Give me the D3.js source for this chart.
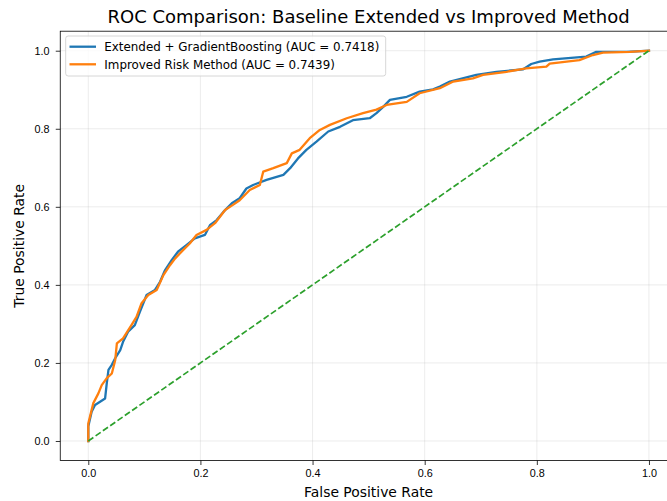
<!DOCTYPE html>
<html>
<head>
<meta charset="utf-8">
<script src="https://cdn.jsdelivr.net/npm/d3@7"></script>
<style>
body { margin: 0; background: #fff; }
svg { display: block; font-family: "DejaVu Sans", sans-serif; }
.grid line { stroke: #b0b0b0; stroke-opacity: 0.3; stroke-width: 0.8; }
.tick text { font-size: 10.8px; fill: #000; }
</style>
</head>
<body>
<svg id="roc" width="667" height="501"></svg>
<script>
const titleText = 'ROC Comparison: Baseline Extended vs Improved Method';
const xLabel = 'False Positive Rate';
const yLabel = 'True Positive Rate';
const tickValues = [0, 0.2, 0.4, 0.6, 0.8, 1.0];

const seriesNames = [
    'Extended + GradientBoosting (AUC = 0.7418)',
    'Improved Risk Method (AUC = 0.7439)'
];

const blueFpr = [0, 0, 0.006, 0.012, 0.030, 0.033, 0.036, 0.042, 0.048, 0.057, 0.062, 0.071, 0.083, 0.092, 0.104, 0.119, 0.128, 0.137, 0.149, 0.160, 0.175, 0.190, 0.208, 0.217, 0.229, 0.241, 0.256, 0.270, 0.282, 0.294, 0.318, 0.348, 0.360, 0.374, 0.389, 0.407, 0.428, 0.449, 0.472, 0.502, 0.514, 0.526, 0.538, 0.568, 0.591, 0.615, 0.627, 0.645, 0.692, 0.728, 0.775, 0.790, 0.805, 0.829, 0.888, 0.906, 0.960, 1.0];
const blueTpr = [0, 0.037, 0.075, 0.092, 0.109, 0.148, 0.182, 0.195, 0.212, 0.233, 0.254, 0.280, 0.297, 0.331, 0.374, 0.387, 0.408, 0.438, 0.464, 0.485, 0.502, 0.519, 0.528, 0.553, 0.566, 0.587, 0.609, 0.622, 0.647, 0.656, 0.669, 0.682, 0.699, 0.724, 0.746, 0.767, 0.793, 0.805, 0.822, 0.827, 0.840, 0.856, 0.874, 0.882, 0.895, 0.901, 0.908, 0.921, 0.938, 0.946, 0.952, 0.966, 0.972, 0.978, 0.985, 0.997, 0.997, 1.0];

const orangeFpr = [0, 0, 0.009, 0.018, 0.024, 0.033, 0.042, 0.048, 0.051, 0.062, 0.077, 0.086, 0.095, 0.107, 0.122, 0.134, 0.146, 0.155, 0.169, 0.181, 0.193, 0.211, 0.226, 0.244, 0.258, 0.270, 0.288, 0.306, 0.312, 0.330, 0.354, 0.363, 0.377, 0.395, 0.413, 0.431, 0.461, 0.490, 0.514, 0.532, 0.568, 0.591, 0.627, 0.651, 0.686, 0.704, 0.746, 0.781, 0.817, 0.823, 0.876, 0.900, 0.918, 0.966, 1.0];
const orangeTpr = [0, 0.045, 0.097, 0.122, 0.143, 0.161, 0.173, 0.207, 0.250, 0.263, 0.297, 0.318, 0.353, 0.374, 0.387, 0.425, 0.451, 0.468, 0.489, 0.506, 0.528, 0.541, 0.558, 0.592, 0.605, 0.617, 0.643, 0.656, 0.690, 0.699, 0.712, 0.737, 0.746, 0.776, 0.797, 0.810, 0.827, 0.840, 0.849, 0.861, 0.869, 0.891, 0.904, 0.921, 0.929, 0.938, 0.946, 0.955, 0.959, 0.967, 0.976, 0.989, 0.995, 0.997, 1.0];

const chanceFpr = [0, 1];
const chanceTpr = [0, 1];

const colors = ['#1f77b4', '#ff7f0e', '#2ca02c'];

function drawRoc(selector) {
    const svg = d3.select(selector);
    // axes box runs past the right edge of the window, as in the original
    const left = 60.25, right = 677, top = 31.2, bottom = 460.5;
    const x = d3.scaleLinear().domain([-0.05, 1.05]).range([left, right]);
    const y = d3.scaleLinear().domain([-0.05, 1.05]).range([bottom, top]);

    const grid = svg.append('g').attr('class', 'grid');
    grid.selectAll('line.gx').data(tickValues)
	.join('line').attr('class', 'gx')
	.attr('x1', d => x(d)).attr('x2', d => x(d))
	.attr('y1', top).attr('y2', bottom);
    grid.selectAll('line.gy').data(tickValues)
	.join('line').attr('class', 'gy')
	.attr('y1', d => y(d)).attr('y2', d => y(d))
	.attr('x1', left).attr('x2', right);

    const line = d3.line().x(d => x(d[0])).y(d => y(d[1]));
    const curves = [
	d3.zip(blueFpr, blueTpr),
	d3.zip(orangeFpr, orangeTpr)
    ];
    svg.append('g').selectAll('path.roc').data(curves)
	.join('path')
	.attr('class', 'roc')
	.attr('d', line)
	.attr('fill', 'none')
	.attr('stroke', (_, i) => colors[i])
	.attr('stroke-width', 2.3)
	.attr('stroke-linejoin', 'round')
	.attr('stroke-linecap', 'square');

    svg.append('path')
	.attr('d', line(d3.zip(chanceFpr, chanceTpr)))
	.attr('fill', 'none')
	.attr('stroke', colors[2])
	.attr('stroke-width', 1.7)
	.attr('stroke-dasharray', '6.2,2.7');

    const xAxis = d3.axisBottom(x).tickValues(tickValues).tickFormat(d3.format('.1f'))
	  .tickSize(4.5).tickPadding(4.5);
    const yAxis = d3.axisLeft(y).tickValues(tickValues).tickFormat(d3.format('.1f'))
	  .tickSize(4.5).tickPadding(6.2);
    const gx = svg.append('g').attr('transform', `translate(0,${bottom})`).call(xAxis);
    const gy = svg.append('g').attr('transform', `translate(${left},0)`).call(yAxis);
    [gx, gy].forEach(g => {
	g.select('.domain').remove();
	g.selectAll('.tick line').attr('stroke', '#000').attr('stroke-width', 0.8);
    });
    gx.selectAll('.tick text').attr('dy', '0.71em');

    // spines
    svg.append('rect')
	.attr('x', left).attr('y', top)
	.attr('width', right - left).attr('height', bottom - top)
	.attr('fill', 'none').attr('stroke', '#000').attr('stroke-width', 0.8);

    svg.append('text')
	.attr('x', (left + right) / 2).attr('y', 23)
	.attr('text-anchor', 'middle')
	.style('font-size', '18px')
	.text(titleText);
    svg.append('text')
	.attr('x', (left + right) / 2).attr('y', 497)
	.attr('text-anchor', 'middle')
	.style('font-size', '13.9px')
	.text(xLabel);
    svg.append('text')
	.attr('transform', `translate(23.5,${(top + bottom) / 2}) rotate(-90)`)
	.attr('text-anchor', 'middle')
	.style('font-size', '13.9px')
	.text(yLabel);

    // legend
    const legend = svg.append('g');
    legend.append('rect')
	.attr('x', 65.7).attr('y', 36)
	.attr('width', 320).attr('height', 40)
	.attr('rx', 2.5)
	.attr('fill', '#fff').attr('fill-opacity', 0.8)
	.attr('stroke', '#cccccc').attr('stroke-width', 0.8);
    const items = legend.selectAll('g.item').data(seriesNames)
	  .join('g').attr('class', 'item')
	  .attr('transform', (_, i) => `translate(0,${46.7 + i * 17.6})`);
    items.append('line')
	.attr('x1', 69.5).attr('x2', 96)
	.attr('stroke', (_, i) => colors[i])
	.attr('stroke-width', 2.3);
    items.append('text')
	.attr('x', 104.3).attr('dy', '0.36em')
	.style('font-size', '11.9px')
	.text(d => d);
}

drawRoc('svg#roc');
</script>
</body>
</html>
